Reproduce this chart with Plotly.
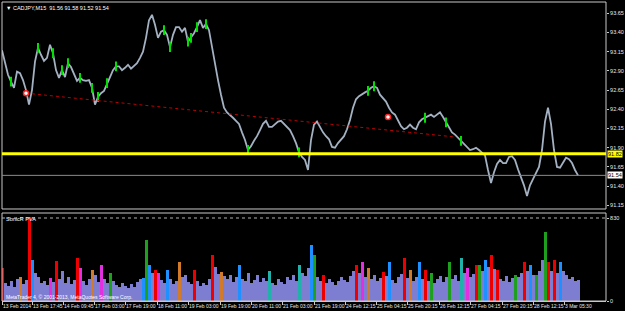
import plotly.graph_objects as go
import numpy as np

# ---- data ----
price = [93.17, 93.00, 92.85, 92.76, 92.68, 92.89, 92.87, 92.78, 92.65, 92.46,
         92.65, 93.02, 93.20, 93.11, 93.03, 93.07, 93.24, 93.13, 92.91, 92.81,
         92.91, 92.82, 93.00, 92.95, 92.86, 92.77, 92.81, 92.78, 92.77, 92.78,
         92.68, 92.46, 92.56, 92.61, 92.64, 92.74, 92.82, 92.91, 92.96, 92.96,
         92.91, 92.94, 92.98, 92.93, 92.96, 93.00, 93.07, 93.15, 93.33, 93.56,
         93.63, 93.50, 93.33, 93.41, 93.43, 93.37, 93.21, 93.37, 93.47, 93.47,
         93.41, 93.46, 93.28, 93.33, 93.39, 93.47, 93.56, 93.46, 93.51, 93.43,
         93.20, 93.00, 92.78, 92.59, 92.42, 92.36, 92.33, 92.29, 92.25, 92.21,
         92.10, 92.00, 91.87, 91.92, 91.99, 92.05, 92.13, 92.21, 92.25, 92.17,
         92.17, 92.20, 92.24, 92.25, 92.21, 92.17, 92.13, 92.05, 91.96, 91.84,
         91.78, 91.74, 91.61, 92.00, 92.20, 92.24, 92.16, 92.10, 92.05, 92.01,
         91.91, 91.90, 91.96, 92.01, 92.05, 92.14, 92.26, 92.42, 92.53, 92.57,
         92.60, 92.62, 92.64, 92.68, 92.70, 92.68, 92.59, 92.55, 92.50, 92.42,
         92.36, 92.33, 92.25, 92.18, 92.14, 92.16, 92.20, 92.16, 92.14, 92.23,
         92.27, 92.29, 92.31, 92.33, 92.30, 92.33, 92.36, 92.30, 92.23, 92.16,
         92.10, 92.07, 92.03, 91.99, 91.95, 91.91, 91.87, 91.88, 91.90, 91.87,
         91.84, 91.80, 91.61, 91.44, 91.58, 91.69, 91.74, 91.70, 91.70, 91.78,
         91.79, 91.74, 91.62, 91.52, 91.41, 91.27, 91.41, 91.49, 91.57, 91.65,
         91.87, 92.24, 92.42, 92.21, 91.87, 91.65, 91.64, 91.70, 91.77, 91.75,
         91.70, 91.61, 91.54]

green_idx = [3, 12, 17, 20, 22, 26, 30, 32, 35, 38, 54, 56, 62, 63, 65, 68,
             82, 99, 122, 124, 141, 148, 153]

volume = [330, 180, 150, 200, 140, 220, 240, 170, 210, 840,
          410, 280, 240, 180, 200, 160, 230, 190, 400, 220,
          300, 180, 240, 170, 210, 430, 330, 200, 160, 220,
          310, 260, 190, 360, 220, 180, 280, 200, 160, 140,
          180, 150, 130, 170, 140, 190, 220, 230, 610, 360,
          280, 310, 280, 210, 180, 310, 220, 170, 200, 390,
          240, 260, 190, 170, 310, 200, 150, 180, 160, 220,
          460, 340, 270, 290, 250, 220, 260, 190, 240, 360,
          220, 200, 280, 180, 210, 260, 190, 230, 200, 300,
          180, 160, 220, 190, 170, 240, 210, 260, 200, 360,
          280, 250, 330, 560, 460, 240, 200, 260, 180, 220,
          190, 160, 200, 240, 210, 190, 250, 300, 360, 280,
          390, 240, 330, 220, 260, 200, 230, 290, 250, 390,
          210, 180, 240, 270, 430, 230, 310, 200, 240, 390,
          220, 310, 200, 280, 180, 220, 250, 190, 240, 390,
          220, 260, 200, 430, 280, 330, 240, 270, 360, 360,
          300, 410, 340, 460, 320, 310, 220, 200, 250, 190,
          230, 260, 240, 280, 390, 300, 360, 260, 260, 300,
          410, 690, 390, 300, 410, 280, 390, 300, 260, 220,
          240, 200, 210]

vol_kind = ("rnnnnnonnrbnnnnnmnrn" "nnnnnrmnnnonnmnngnnn" "nnnnnnnbgbnrmnnbnnno"
            "nnnnrnnnnnrnnonnnnnb" "nnnnnnnnnt" "nnnnnnnnnt"
            "nnnbgnnrnn" "nnnnnnnnrn" "mnonnnnrnb" "nnnnrnonnb"
            "nrngnnnnng" "nnntnmnnrg" "nbnrnrnnnn" "ngnnrnbngn"
            "ngrnrnbnnn" "nnn")

date_pos = [0, 30, 61, 92, 123, 155, 186, 218, 249, 280, 312, 343, 374,
            405, 437, 468, 500, 531, 562]
date_labels = ["13 Feb 2014", "13 Feb 17:45", "14 Feb 09:45", "17 Feb 03:00",
               "17 Feb 19:00", "18 Feb 11:00", "19 Feb 03:00", "19 Feb 19:00",
               "20 Feb 11:00", "21 Feb 03:00", "21 Feb 19:00", "24 Feb 12:15",
               "25 Feb 04:15", "25 Feb 20:15", "26 Feb 12:15", "27 Feb 04:15",
               "27 Feb 20:15", "28 Feb 12:15", "3 Mar 05:30"]
price_ticks = [91.15, 91.40, 91.65, 91.90, 92.15, 92.40, 92.65, 92.90,
               93.15, 93.40, 93.65]
bid_price = 91.54
level_price = 91.82
trend_x = [24, 453]
trend_y = [92.61, 92.04]
pivot_x = [24, 386]
pivot_y = [92.61, 92.30]
vol_level = 830

# ---- styling ----
kind_color = {"n": "#7d7dd2", "r": "#ee0000", "g": "#1ea01e", "b": "#1e90ff",
              "m": "#e030e0", "o": "#d07a2a", "t": "#20b2aa"}
FG = "#c8c8c8"
TXT = "#e8e8e8"
FONT = "Liberation Sans"

x = np.arange(len(price)) * 3
px = np.array(price)
vx = np.arange(len(volume)) * 3
vcols = [kind_color[k] for k in vol_kind[:len(volume)]]

fig = go.Figure()

fig.add_trace(go.Scatter(x=x, y=price, mode="lines",
                         line=dict(color="#a3b1c2", width=1.8),
                         hoverinfo="skip", xaxis="x", yaxis="y"))
fig.add_trace(go.Scatter(x=x[green_idx], y=px[green_idx], mode="markers",
                         marker=dict(symbol="line-ns", size=7,
                                     line=dict(color="#00e000", width=2)),
                         hoverinfo="skip", xaxis="x", yaxis="y"))
fig.add_trace(go.Scatter(x=trend_x, y=trend_y, mode="lines",
                         line=dict(color="#c00000", width=1, dash="dot"),
                         hoverinfo="skip", xaxis="x", yaxis="y"))
fig.add_trace(go.Scatter(x=pivot_x, y=pivot_y, mode="markers",
                         marker=dict(symbol="circle", size=5, color="#ffffff",
                                     line=dict(color="#ff2020", width=1.5)),
                         hoverinfo="skip", xaxis="x", yaxis="y"))
fig.add_trace(go.Bar(x=vx, y=volume, width=3,
                     marker=dict(color=vcols, line=dict(width=0)),
                     hoverinfo="skip", xaxis="x", yaxis="y2"))

main_bottom = 0.3077
vol_top = 0.2943

shapes = [
    dict(type="rect", xref="paper", yref="paper", x0=0, x1=1, y0=main_bottom, y1=1,
         line=dict(color=FG, width=1)),
    dict(type="rect", xref="paper", yref="paper", x0=0, x1=1, y0=0, y1=vol_top,
         line=dict(color=FG, width=1)),
    dict(type="line", xref="paper", yref="y", x0=0, x1=1, y0=level_price, y1=level_price,
         line=dict(color="#ffff00", width=3)),
    dict(type="line", xref="paper", yref="y", x0=0, x1=1, y0=bid_price, y1=bid_price,
         line=dict(color="#8c8c8c", width=1)),
    dict(type="line", xref="paper", yref="y2", x0=0, x1=1, y0=vol_level, y1=vol_level,
         line=dict(color="#b0b0b0", width=1, dash="dot")),
]

annotations = [
    dict(text="▼ CADJPY,M15  91.56 91.58 91.52 91.54", xref="paper", yref="paper",
         x=0, y=1, xanchor="left", yanchor="top", xshift=2, yshift=-1, showarrow=False,
         font=dict(family=FONT, size=5.5, color="#ffffff")),
    dict(text="SonicR PVA", xref="paper", yref="paper", x=0, y=vol_top,
         xanchor="left", yanchor="top", xshift=2, yshift=-1, showarrow=False,
         font=dict(family=FONT, size=5.5, color="#ffffff")),
    dict(text="MetaTrader 4, © 2001-2013, MetaQuotes Software Corp.", xref="paper",
         yref="paper", x=0, y=0, xanchor="left", yanchor="bottom", xshift=2, yshift=-1,
         showarrow=False, font=dict(family=FONT, size=5, color="#ffffff")),
    dict(text=f"{level_price:.2f}", xref="paper", yref="y", x=1, y=level_price,
         xanchor="left", yanchor="middle", xshift=1, showarrow=False,
         bgcolor="#ffff00", borderpad=0,
         font=dict(family=FONT, size=5.5, color="#000000")),
    dict(text=f"{bid_price:.2f}", xref="paper", yref="y", x=1, y=bid_price,
         xanchor="left", yanchor="middle", xshift=1, showarrow=False,
         bgcolor="#ffffff", borderpad=0,
         font=dict(family=FONT, size=5.5, color="#000000")),
]

fig.update_layout(
    width=625, height=311,
    margin=dict(l=2, r=19, t=2, b=10, autoexpand=False),
    paper_bgcolor="#000000", plot_bgcolor="#000000",
    showlegend=False, bargap=0, hovermode=False,
    shapes=shapes, annotations=annotations,
    xaxis=dict(domain=[0, 1], range=[0, 604], anchor="y2",
               showgrid=False, zeroline=False, showline=True, linecolor=FG,
               ticks="outside", ticklen=3, tickcolor=FG, tickangle=0,
               automargin=False,
               tickvals=date_pos, ticktext=date_labels,
               ticklabelposition="outside right",
               tickfont=dict(family=FONT, size=5, color=TXT)),
    yaxis=dict(domain=[main_bottom, 1], range=[91.102, 93.797], side="right",
               anchor="x", showgrid=False, zeroline=False, showline=False,
               automargin=False,
               ticks="outside", ticklen=2, tickcolor=FG,
               tickvals=price_ticks, ticktext=[f"{v:.2f}" for v in price_ticks],
               tickfont=dict(family=FONT, size=5.5, color=TXT)),
    yaxis2=dict(domain=[0, vol_top], range=[0, 880], side="right", anchor="x",
                showgrid=False, zeroline=False, showline=False,
                automargin=False,
                ticks="outside", ticklen=2, tickcolor=FG,
                tickvals=[vol_level, 0], ticktext=[str(vol_level), "0"],
                tickfont=dict(family=FONT, size=5.5, color=TXT)),
)

fig.write_html("out.html")
